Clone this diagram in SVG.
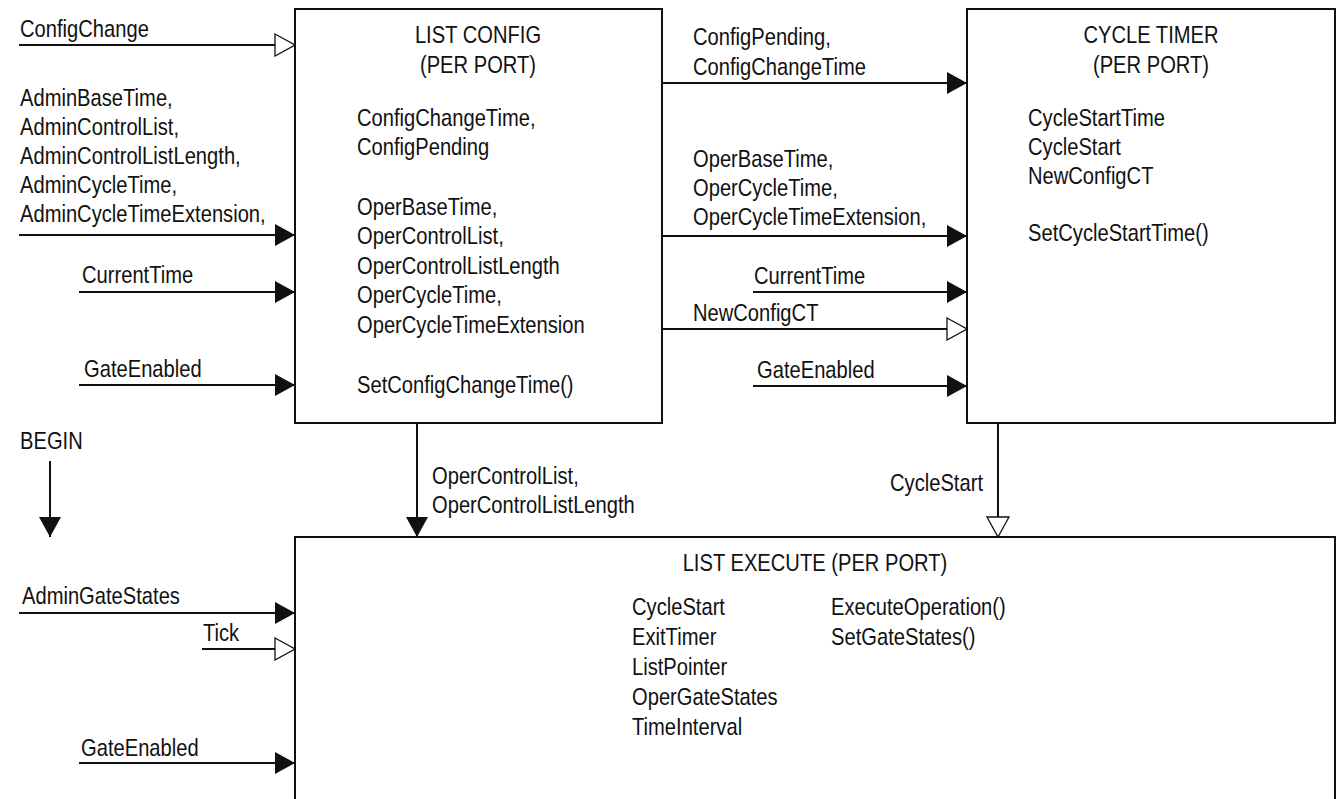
<svg xmlns="http://www.w3.org/2000/svg" width="1339" height="799" viewBox="0 0 1339 799">
<style>
  .box { fill: #ffffff; stroke: #111111; stroke-width: 2; }
  .ln { stroke: #111111; stroke-width: 2; fill: none; }
  .f { marker-end: url(#filled); }
  .h { marker-end: url(#hollow); }
  text { font-family: "Liberation Sans", Arial, sans-serif; font-size: 24px; fill: #111111; }
  .mid { text-anchor: middle; }
  .end { text-anchor: end; }
</style>
<defs>
  <marker id="filled" viewBox="0 0 20 22" refX="20" refY="11" markerWidth="20" markerHeight="22" markerUnits="userSpaceOnUse" orient="auto">
    <path d="M0,0 L20,11 L0,22 Z" fill="#111111"/>
  </marker>
  <marker id="hollow" viewBox="-1 -1 22 24" refX="20" refY="11" markerWidth="22" markerHeight="24" markerUnits="userSpaceOnUse" orient="auto">
    <path d="M0,0 L20,11 L0,22 Z" fill="#ffffff" stroke="#111111" stroke-width="1.3"/>
  </marker>
</defs>
<rect width="1339" height="799" fill="#ffffff"/>

<g id="connectors">
  <line class="ln h" x1="19" y1="45" x2="295" y2="45"/>
  <line class="ln f" x1="19" y1="235" x2="295" y2="235"/>
  <line class="ln f" x1="79" y1="292" x2="295" y2="292"/>
  <line class="ln f" x1="79" y1="385" x2="295" y2="385"/>
  <line class="ln f" x1="50" y1="461" x2="50" y2="537"/>
  <line class="ln f" x1="19" y1="613" x2="295" y2="613"/>
  <line class="ln h" x1="202" y1="649" x2="295" y2="649"/>
  <line class="ln f" x1="79" y1="763" x2="295" y2="763"/>
  <line class="ln f" x1="417" y1="423" x2="417" y2="537"/>
  <line class="ln h" x1="998" y1="423" x2="998" y2="537"/>
  <line class="ln f" x1="662" y1="83" x2="967" y2="83"/>
  <line class="ln f" x1="662" y1="236" x2="967" y2="236"/>
  <line class="ln f" x1="753" y1="292" x2="967" y2="292"/>
  <line class="ln h" x1="662" y1="329" x2="967" y2="329"/>
  <line class="ln f" x1="753" y1="386" x2="967" y2="386"/>

  <text transform="translate(20,37) scale(0.84,1)">ConfigChange</text>
  <text transform="translate(20,106) scale(0.84,1)">AdminBaseTime,</text>
  <text transform="translate(20,135) scale(0.84,1)">AdminControlList,</text>
  <text transform="translate(20,164) scale(0.84,1)">AdminControlListLength,</text>
  <text transform="translate(20,193) scale(0.84,1)">AdminCycleTime,</text>
  <text transform="translate(20,222) scale(0.84,1)">AdminCycleTimeExtension,</text>
  <text transform="translate(82,283) scale(0.84,1)">CurrentTime</text>
  <text transform="translate(84,377) scale(0.84,1)">GateEnabled</text>
  <text transform="translate(20,449) scale(0.84,1)">BEGIN</text>
  <text transform="translate(22,604) scale(0.84,1)">AdminGateStates</text>
  <text transform="translate(203,641) scale(0.84,1)">Tick</text>
  <text transform="translate(81,756) scale(0.84,1)">GateEnabled</text>

  <text transform="translate(693,45) scale(0.84,1)">ConfigPending,</text>
  <text transform="translate(693,75) scale(0.84,1)">ConfigChangeTime</text>
  <text transform="translate(693,167) scale(0.84,1)">OperBaseTime,</text>
  <text transform="translate(693,196) scale(0.84,1)">OperCycleTime,</text>
  <text transform="translate(693,225) scale(0.84,1)">OperCycleTimeExtension,</text>
  <text transform="translate(754,284) scale(0.84,1)">CurrentTime</text>
  <text transform="translate(693,321) scale(0.84,1)">NewConfigCT</text>
  <text transform="translate(757,378) scale(0.84,1)">GateEnabled</text>

  <text transform="translate(432,484) scale(0.84,1)">OperControlList,</text>
  <text transform="translate(432,513) scale(0.84,1)">OperControlListLength</text>
  <text class="end" transform="translate(983,491) scale(0.84,1)">CycleStart</text>
</g>

<g id="list-config">
  <rect class="box" x="295" y="9" width="367" height="414"/>
  <text class="mid" transform="translate(478,43) scale(0.84,1)">LIST CONFIG</text>
  <text class="mid" transform="translate(478,73) scale(0.84,1)">(PER PORT)</text>
  <text transform="translate(357,126) scale(0.84,1)">ConfigChangeTime,</text>
  <text transform="translate(357,155) scale(0.84,1)">ConfigPending</text>
  <text transform="translate(357,215) scale(0.84,1)">OperBaseTime,</text>
  <text transform="translate(357,244) scale(0.84,1)">OperControlList,</text>
  <text transform="translate(357,274) scale(0.84,1)">OperControlListLength</text>
  <text transform="translate(357,303) scale(0.84,1)">OperCycleTime,</text>
  <text transform="translate(357,333) scale(0.84,1)">OperCycleTimeExtension</text>
  <text transform="translate(357,393) scale(0.84,1)">SetConfigChangeTime()</text>
</g>

<g id="cycle-timer">
  <rect class="box" x="967" y="9" width="368" height="414"/>
  <text class="mid" transform="translate(1151,43) scale(0.84,1)">CYCLE TIMER</text>
  <text class="mid" transform="translate(1151,73) scale(0.84,1)">(PER PORT)</text>
  <text transform="translate(1028,126) scale(0.84,1)">CycleStartTime</text>
  <text transform="translate(1028,155) scale(0.84,1)">CycleStart</text>
  <text transform="translate(1028,184) scale(0.84,1)">NewConfigCT</text>
  <text transform="translate(1028,241) scale(0.84,1)">SetCycleStartTime()</text>
</g>

<g id="list-execute">
  <rect class="box" x="295" y="537" width="1040" height="300"/>
  <text class="mid" transform="translate(815,571) scale(0.84,1)">LIST EXECUTE (PER PORT)</text>
  <text transform="translate(632,615) scale(0.84,1)">CycleStart</text>
  <text transform="translate(632,645) scale(0.84,1)">ExitTimer</text>
  <text transform="translate(632,675) scale(0.84,1)">ListPointer</text>
  <text transform="translate(632,705) scale(0.84,1)">OperGateStates</text>
  <text transform="translate(632,735) scale(0.84,1)">TimeInterval</text>
  <text transform="translate(831,615) scale(0.84,1)">ExecuteOperation()</text>
  <text transform="translate(831,645) scale(0.84,1)">SetGateStates()</text>
</g>
</svg>
